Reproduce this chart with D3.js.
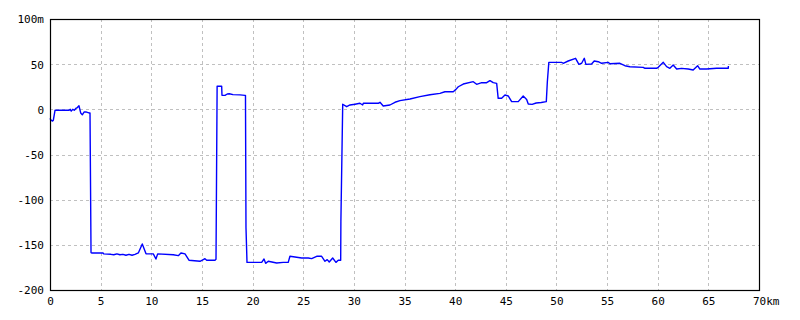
<!DOCTYPE html>
<html><head><meta charset="utf-8">
<script src="https://cdn.jsdelivr.net/npm/d3@7"></script>
<style>
html,body{margin:0;padding:0;background:#fff;}
svg{display:block;}
.tick text{font-family:"DejaVu Sans Mono",monospace;font-size:11px;fill:#000;}
</style></head>
<body><svg id="c" width="800" height="320"></svg>
<script>
const xTicks = [0,5,10,15,20,25,30,35,40,45,50,55,60,65,70];
const yTicks = [-200,-150,-100,-50,0,50,100];
const xUnit = "km";
const yUnit = "m";
// distance (km)
const distKm = [
0,0.1,0.25,0.33,0.5,1.88,2.0,2.1,2.25,2.4,2.55,2.7,2.86,3.03,3.19,3.36,3.6,3.85,3.95,
4.05,4.15,5.25,5.3,6.0,6.3,6.6,6.9,7.2,7.5,7.8,8.1,8.39,8.72,9.11,9.48,10.2,10.46,10.63,12.17,12.67,12.93,13.33,13.72,14.81,15.13,15.3,15.47,16.29,16.39,
16.5,16.95,16.98,17.28,17.5,17.7,18.07,18.76,19.25,19.3,19.35,
19.45,20.9,21.13,21.29,21.55,22.38,23.03,23.52,23.69,24.85,25.5,25.83,26.33,26.82,27.15,27.37,27.57,27.91,28.23,28.46,28.7,28.72,
28.9,29.29,29.62,30.11,30.6,30.87,30.93,32.41,32.58,32.9,33.56,34.06,34.55,35.54,36.52,37.51,38.5,38.99,39.81,40.08,40.31,40.8,41.79,42.12,42.62,43.11,43.44,43.76,44.1,44.25,44.59,44.92,45.24,45.58,46.23,46.72,47.06,47.22,47.6,48.0,48.5,49.0,49.1,
49.25,50.51,50.67,51.16,51.89,52.22,52.49,52.75,52.91,53.47,53.73,54.13,54.46,55.11,55.28,56.27,56.76,57.26,58.57,58.74,59.89,60.05,60.55,60.88,61.2,61.53,61.87,62.36,63.01,63.5,63.94,64.16,64.83,65.81,66.96,66.98
];
// elevation (m)
const elevM = [
-10,-12,-13,-12,-1,-1,0,-2,0,-1,1,2,4,-4,-6,-3,-3,-4,-4,
-158.5,-159.1,-159.1,-160,-160.5,-161,-160,-161,-160.5,-161.5,-160.5,-161.5,-160.5,-159,-149,-159.8,-160,-165.7,-160,-161,-162,-159,-160,-167,-168.2,-166.4,-165.3,-167,-167,-166,
25.5,25.5,15.5,15.5,17,17.3,16.3,16,15.5,15.5,-131,
-169.4,-169.4,-165.7,-170.5,-168.2,-170.1,-169.4,-169.4,-162.7,-164.6,-164.6,-165.3,-162.7,-162.7,-168.2,-166.4,-169,-164.6,-169.4,-167.1,-167,-124,
5.6,2.9,4.8,5.6,6.7,4.8,6.7,6.7,7.8,3.7,4.8,7.8,9.6,11.4,14,16.2,17.7,19.5,19.5,22.1,25,28,30.6,27.7,29.5,29.5,31.8,29.5,28.8,12.2,12.2,15.9,14.8,8.5,8.5,14.8,11,5.9,5.5,7,7.5,8.5,30,
52,52,51,53.5,56.5,49.8,51,56.5,49.8,50.2,53.5,52.7,51,52,50.5,51,48.3,47.2,46.5,45.4,45.4,46.5,52,47.2,45.4,49,44.6,45.4,44.6,43.5,48.3,44.6,44.6,45.4,45.4,48
];

const svg = d3.select("#c");
const L = 50, R = 759, T = 19, B = 290;
const x = d3.scaleLinear().domain([0,70]).range([L,R]);
const y = d3.scaleLinear().domain([-200,100]).range([B,T]);

// grid
const grid = svg.append("g");
grid.selectAll("line.vx").data(xTicks.filter(t=>t>0&&t<70)).join("line")
  .attr("x1",d=>Math.round(x(d))+0.5).attr("x2",d=>Math.round(x(d))+0.5)
  .attr("y1",T).attr("y2",B)
  .attr("stroke","#c0c0c0").attr("stroke-dasharray","3,3").attr("stroke-width",1);
grid.selectAll("line.hy").data(yTicks.filter(t=>t>-200&&t<100)).join("line")
  .attr("y1",d=>Math.round(y(d))+0.5).attr("y2",d=>Math.round(y(d))+0.5)
  .attr("x1",L).attr("x2",R)
  .attr("stroke","#c0c0c0").attr("stroke-dasharray","3,3").attr("stroke-width",1);

// data line
const pts = distKm.map((d,i)=>[d,elevM[i]]);
svg.append("path").datum(pts)
  .attr("fill","none").attr("stroke","#0000ff").attr("stroke-width",1.4)
  .attr("stroke-linejoin","round")
  .attr("d", d3.line().x(d=>x(d[0])).y(d=>y(d[1])));

// frame
svg.append("rect").attr("x",L+0.5).attr("y",T+0.5).attr("width",R-L).attr("height",B-T)
  .attr("fill","none").attr("stroke","#000").attr("stroke-width",1.2);

// axes (labels only)
const xAxis = d3.axisBottom(x).tickValues(xTicks).tickSize(0).tickPadding(0)
  .tickFormat(d=> d===70 ? d+xUnit : String(d));
const gx = svg.append("g").attr("transform",`translate(0,${B+7})`).call(xAxis);
gx.select(".domain").remove();
gx.selectAll(".tick text").attr("dy","0.71em").attr("text-anchor",d=>d===70?"start":"middle")
  .attr("dx",d=>d===70?"-6.6":"0");

const yAxis = d3.axisLeft(y).tickValues(yTicks).tickSize(0).tickPadding(0)
  .tickFormat(d=> d===100 ? d+yUnit : String(d));
const gy = svg.append("g").attr("transform",`translate(${L-6},0)`).call(yAxis);
gy.select(".domain").remove();
gy.selectAll(".tick text").attr("dy","0.36em");
</script></body></html>
